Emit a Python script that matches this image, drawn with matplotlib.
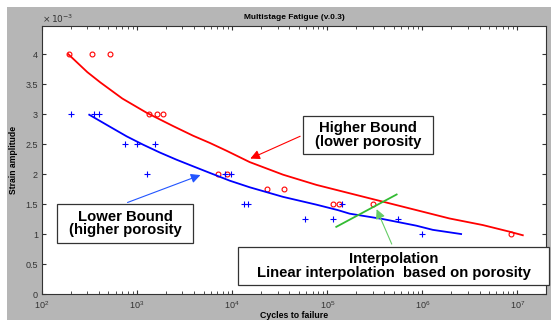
import matplotlib
matplotlib.use("Agg")
import matplotlib.pyplot as plt
from matplotlib.patches import Rectangle
from matplotlib.ticker import FuncFormatter, LogLocator

plt.rcParams['font.family'] = ['Liberation Sans', 'DejaVu Sans']

# test data (cycles, strain amplitude in 1e-3)
red_n = [190, 335, 518, 1340, 1625, 1880, 7100, 8900, 23100, 35500, 1.15e5, 1.33e5, 3.05e5, 8.5e6]
red_s = [4.0, 4.0, 4.0, 3.0, 3.0, 3.0, 2.0, 2.0, 1.75, 1.75, 1.5, 1.5, 1.5, 1.0]

blue_n = [202, 352, 393, 750, 990, 1560, 1260, 8400, 9700, 13300, 14800,
          58000, 1.15e5, 1.44e5, 5.6e5, 1.0e6]
blue_s = [3.0, 3.0, 3.0, 2.5, 2.5, 2.5, 2.0, 2.0, 2.0, 1.5, 1.5,
          1.25, 1.25, 1.5, 1.25, 1.0]

# fitted bounds
upper_n = [189, 300, 410, 700, 1270, 2400, 3882, 5820, 8710, 15300, 34300,
           76900, 1.72e5, 3.85e5, 8.63e5, 1.93e6, 4.33e6, 8.24e6, 1.14e7]
upper_s = [4.00, 3.70, 3.53, 3.26, 3.02, 2.80, 2.64, 2.52, 2.39, 2.20, 1.99,
           1.82, 1.68, 1.54, 1.40, 1.26, 1.15, 1.04, 0.98]

lower_n = [314, 518, 776, 1159, 1734, 2600, 3882, 5820, 9440, 15300, 34300, 76900,
           1.29e5, 1.72e5, 3.85e5, 8.63e5, 1.29e6, 2.56e6]
lower_s = [2.99, 2.79, 2.63, 2.49, 2.36, 2.24, 2.13, 2.02, 1.89, 1.78, 1.62, 1.49,
           1.40, 1.34, 1.25, 1.14, 1.07, 1.00]

interp_n = [1.245e5, 5.37e5]
interp_s = [1.12, 1.66]

W, H = 551, 320


def fx(px):
    return px / W


def fy(py):
    return 1 - py / H


fig = plt.figure(figsize=(W / 100, H / 100), dpi=100, facecolor='white')
fig.patches.append(Rectangle((fx(7), 0), 1 - fx(7), fy(7), transform=fig.transFigure,
                             facecolor='#b6b6b6', edgecolor='none', zorder=-10))

ax = fig.add_axes([fx(42), fy(294), fx(546) - fx(42), fy(26) - fy(294)])
ax.set_facecolor('white')

ax.plot(red_n, [s * 1e-3 for s in red_s], 'o', mfc='none', mec='red', ms=3.5, mew=0.8)
ax.plot(blue_n, [s * 1e-3 for s in blue_s], '+', color='blue', ms=4, mew=0.8)
ax.plot(upper_n, [s * 1e-3 for s in upper_s], color='red', lw=1.3)
ax.plot(lower_n, [s * 1e-3 for s in lower_s], color='blue', lw=1.3)
ax.plot(interp_n, [s * 1e-3 for s in interp_s], color='#33bb33', lw=1.3)

ax.set_xscale('log')
ax.set_xlim(1e2, 2e7)
ax.set_ylim(0, 4.47e-3)
ax.set_yticks([i * 0.5e-3 for i in range(9)])
ax.yaxis.set_major_formatter(FuncFormatter(lambda v, p: '%g' % round(v * 1e3, 2)))
ax.xaxis.set_minor_locator(LogLocator(base=10, subs=range(2, 10)))
ax.tick_params(which='both', direction='in', top=True, right=True, labelsize=6.5,
               colors='#333333', length=3)
ax.tick_params(axis='x', pad=4)
ax.tick_params(axis='y', pad=3)
ax.tick_params(which='minor', length=2)
for sp in ax.spines.values():
    sp.set_color('#333333')
    sp.set_linewidth(0.8)

ax.set_title('Multistage Fatigue (v.0.3)', fontsize=6, fontweight='bold', pad=5)
ax.set_xlabel('Cycles to failure', fontsize=6.3, fontweight='bold', labelpad=0)
ax.set_ylabel('Strain amplitude', fontsize=6.2, fontweight='bold', labelpad=5)
fig.text(fx(42), fy(19), r'$\times\,10^{-3}$', fontsize=6.5, color='#333333', va='center')

# arrows
ax.annotate('', xy=(14600, 2.24e-3), xytext=(55200, 2.65e-3),
            arrowprops=dict(arrowstyle='-|>', color='red', lw=0.8, mutation_scale=14))
ax.annotate('', xy=(4940, 2.0e-3), xytext=(745, 1.51e-3),
            arrowprops=dict(arrowstyle='-|>', color='#2255ff', lw=0.8, mutation_scale=14))
ax.annotate('', xy=(3.22e5, 1.457e-3), xytext=(4.9e5, 0.79e-3),
            arrowprops=dict(arrowstyle='-|>', color='#66cc66', lw=0.8, mutation_scale=14))

# text boxes (pixel rectangles)
boxes = [
    ((303, 116, 433, 154), 'Higher Bound\n(lower porosity'),
    ((57, 204, 193, 243), 'Lower Bound\n(higher porosity'),
    ((238, 247, 549, 285), 'Interpolation\nLinear interpolation  based on porosity'),
]
for (x0, y0, x1, y1), txt in boxes:
    fig.patches.append(Rectangle((fx(x0), fy(y1)), fx(x1) - fx(x0), fy(y0) - fy(y1),
                                 transform=fig.transFigure, facecolor='white',
                                 edgecolor='#333333', lw=0.9, zorder=5))
    fig.text(fx((x0 + x1) / 2), fy((y0 + y1) / 2), txt, ha='center', va='center',
             fontsize=10.7, fontweight='bold', linespacing=0.95, color='black', zorder=6)

fig.savefig('out.png', dpi=100, facecolor=fig.get_facecolor())
